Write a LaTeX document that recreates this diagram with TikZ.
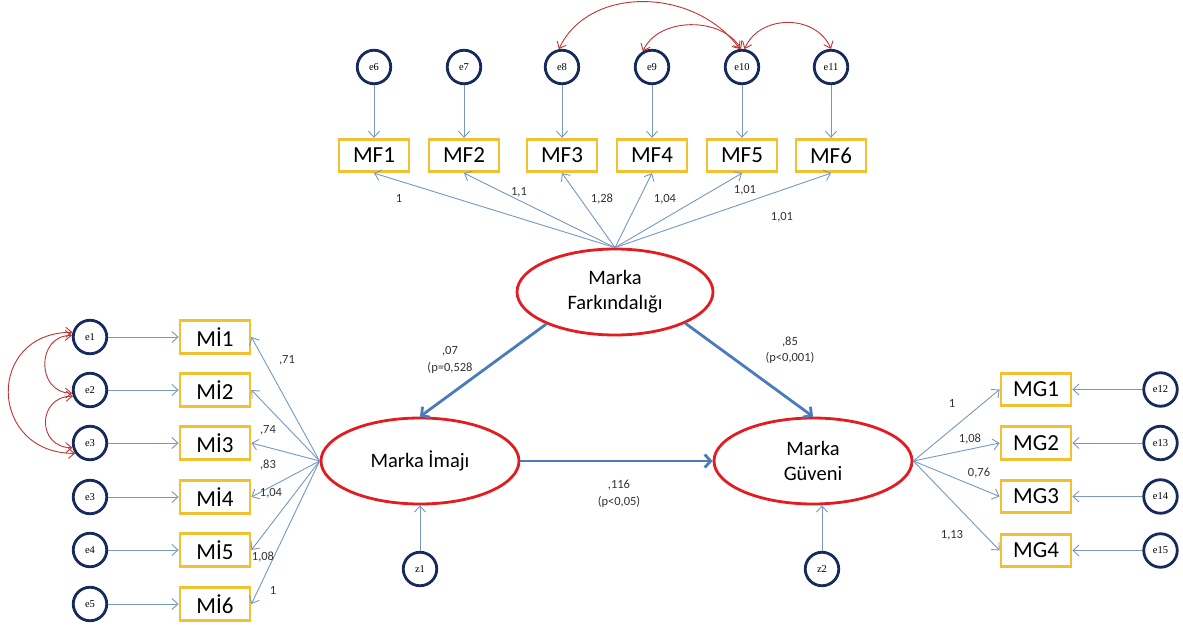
\documentclass[tikz,border=0pt]{standalone}
\usepackage{fontspec}
\usetikzlibrary{shapes.geometric,arrows.meta}
\newfontfamily\carlito{Carlito}
\newfontfamily\tnr{Liberation Serif}
\definecolor{boxc}{RGB}{242,192,50}
\definecolor{errc}{RGB}{22,42,92}
\definecolor{latc}{RGB}{226,28,32}
\definecolor{thinc}{RGB}{118,152,194}
\definecolor{thickc}{RGB}{72,124,186}
\definecolor{covc}{RGB}{192,52,52}
\begin{document}
\begin{tikzpicture}[x=1pt,y=-1pt,
  obs/.style={draw=boxc, line width=2.8pt, minimum width=70pt, minimum height=32.5pt,
    inner sep=0pt, font=\carlito\fontsize{23}{25}\selectfont},
  err/.style={circle, draw=errc, line width=2.8pt, minimum size=33.5pt, inner sep=0pt,
    font=\tnr\fontsize{10.5}{11}\selectfont},
  lat/.style={ellipse, draw=latc, line width=2.8pt, minimum width=196pt, minimum height=86pt,
    inner sep=0pt, align=center, font=\carlito\fontsize{20.5}{25}\selectfont},
  load/.style={draw=thinc, line width=0.9pt, -{Straight Barb[length=6pt,width=11pt]}},
  reg/.style={draw=thickc, line width=2.8pt, -{Straight Barb[length=6pt,width=13pt]}},
  cov/.style={draw=covc, line width=0.9pt,
    {Straight Barb[length=6pt,width=10pt]}-{Straight Barb[length=6pt,width=10pt]}},
  est/.style={font=\carlito\fontsize{12.5}{16.5}\selectfont, text=black!80, inner sep=0pt, align=center}
]
\useasboundingbox (0,0) rectangle (1183,631);
\fill[white] (0,0) rectangle (1183,631);

% latent variables
\node[lat] (MFk) at (615,292) {Marka\\Farkındalığı};
\node[lat, minimum width=198pt] (MIm) at (420,461) {Marka İmajı};
\node[lat, minimum width=198pt] (MGv) at (813,461) {Marka\\Güveni};

% awareness indicators and their errors
\foreach \i/\x in {1/374,2/464,3/562,4/652,5/742,6/831}{
  \node[obs] (MF\i) at (\x,155.5) {MF\i};
}
\foreach \i/\x/\t in {1/374/e6,2/464/e7,3/562/e8,4/652/e9,5/742/e10,6/831/e11}{
  \node[err] (eF\i) at (\x,67) {\t};
  \draw[load] (eF\i.south) -- (MF\i.north);
  \draw[load] (MFk.north) -- (MF\i.south);
}

% image indicators and their errors
\foreach \i/\y/\t in {1/337/e1,2/390/e2,3/443/e3,4/497/e3,5/550/e4,6/604/e5}{
  \node[obs] (MI\i) at (215,\y) {Mİ\i};
  \node[err] (eI\i) at (90,\y) {\t};
  \draw[load] (eI\i.east) -- (MI\i.west);
  \draw[load] (MIm.west) -- (MI\i.east);
}

% trust indicators and their errors
\foreach \i/\y/\t in {1/389.5/e12,2/443/e13,3/496.5/e14,4/550.5/e15}{
  \node[obs] (MG\i) at (1036,\y) {MG\i};
  \node[err] (eG\i) at (1160.5,\y) {\t};
  \draw[load] (eG\i.west) -- (MG\i.east);
  \draw[load] (MGv.east) -- (MG\i.west);
}

% disturbances
\node[err] (z1) at (420,569) {z1};
\node[err] (z2) at (822,569) {z2};
\draw[load] (z1.north) -- (MIm.south);
\draw[load] (z2.north) -- (z2.north |- MGv.south);

% structural paths
\draw[reg] (MFk.205) -- (MIm.north);
\draw[reg] (MFk.336) -- (MGv.north);
\draw[reg] (MIm.east) -- (MGv.west);

% error covariances
\draw[cov] (eF3.100) .. controls +(30,-64) and +(-45,-62) .. (eF5.97);
\draw[cov] (eF4.120) .. controls +(15,-34) and +(-20,-33) .. (eF5.93);
\draw[cov] (eF5.82) .. controls +(15,-35) and +(-15,-35) .. (eF6.90);
\draw[cov] (eI1.165) .. controls +(-87,0) and +(-87,0) .. (eI3.215);
\draw[cov] (eI1.175) .. controls +(-36,0) and +(-36,0) .. (eI2.190);
\draw[cov] (eI2.200) .. controls +(-36,0) and +(-36,0) .. (eI3.195);

% loadings
\node[est] (lF1) at (399,198) {1};
\node[est] (lF2) at (519,192) {1,1};
\node[est] (lF3) at (602,199) {1,28};
\node[est] (lF4) at (665,199) {1,04};
\node[est] (lF5) at (745,190) {1,01};
\node[est] (lF6) at (782,217) {1,01};
\node[est] (lI1) at (287,360) {,71};
\node[est] (lI2) at (268,430) {,74};
\node[est] (lI3) at (268,465) {,83};
\node[est] (lI4) at (271,493) {1,04};
\node[est] (lI5) at (263,557) {1,08};
\node[est] (lI6) at (273,590) {1};
\node[est] (lG1) at (952,403) {1};
\node[est] (lG2) at (970,439) {1,08};
\node[est] (lG3) at (979,473) {0,76};
\node[est] (lG4) at (952,535) {1,13};

% structural estimates
\node[est] (pA) at (450,360) {,07\\(p=0,528};
\node[est] (pB) at (790,350) {,85\\(p<0,001)};
\node[est] (pC) at (619,494) {,116\\(p<0,05)};
\end{tikzpicture}
\end{document}
